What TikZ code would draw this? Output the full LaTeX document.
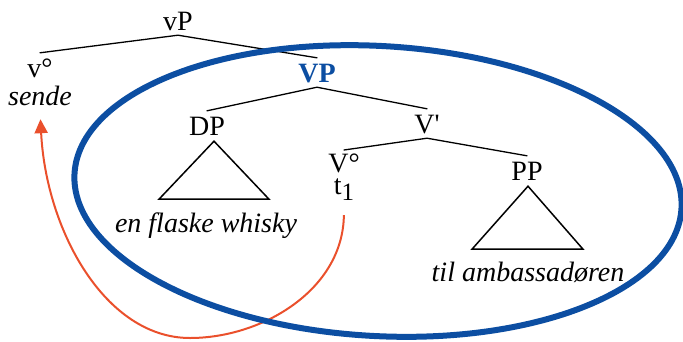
\documentclass[tikz,border=0pt]{standalone}
\usepackage{fontspec}
\setmainfont{Liberation Serif}
\usetikzlibrary{arrows.meta}
\definecolor{ovalblue}{RGB}{12,78,162}
\definecolor{movered}{RGB}{234,80,44}
\begin{document}
\begin{tikzpicture}[x=1pt,y=-1pt,
  lab/.style={anchor=base,inner sep=5pt,text height=19pt,text depth=0pt,font=\fontsize{28}{32}\selectfont},
  itlab/.style={lab,font=\fontsize{28}{32}\selectfont\itshape},
  branch/.style={line width=1.3pt,line cap=round},
  tri/.style={line width=1.5pt,line join=miter},
  oval/.style={draw=ovalblue,line width=6pt},
  move/.style={draw=movered,line width=2pt,-{Triangle[length=14pt,width=13pt]}}]
\useasboundingbox (0,0) rectangle (683,341);
% nodes
\node[lab] (vP) at (178,30) {vP};
\node[lab] (vo) at (40,77) {v°};
\node[itlab] (sende) at (40,105) {sende};
\node[lab,text=ovalblue,font=\fontsize{28}{32}\selectfont\bfseries] (VP) at (317,82) {VP};
\node[lab] (DP) at (207,135) {DP};
\node[itlab] (enf) at (206,232) {en flaske whisky};
\node[lab] (Vbar) at (427,133) {V\textquotesingle};
\node[anchor=north,inner sep=4pt,align=center,font=\fontsize{28}{22}\selectfont] (Vo) at (344,150)
  {V°\\t\raisebox{-6pt}{\fontsize{25}{25}\selectfont 1}};
\node[lab] (PP) at (527,180) {PP};
\node[itlab] (til) at (528,281) {til ambassadøren};
% branches
\draw[branch] (vo.north) -- (vP.south) -- (VP.north);
\draw[branch] (DP.north) -- (VP.south) -- (Vbar.north);
\draw[branch] (Vo.north) -- (Vbar.south) -- (PP.north);
% triangles
\draw[tri] ([xshift=7pt,yshift=-1pt]DP.south) -- ++(-55,58) -- ++(110,0) -- cycle;
\draw[tri] ([xshift=1pt,yshift=-1pt]PP.south) -- ++(-56,63) -- ++(111,0) -- cycle;
% movement arrow
\draw[move,shorten <=10pt,shorten >=9pt] (Vo.south) .. controls (343,290) and (262,338) .. (190,338)
  .. controls (105,338) and (46,230) .. (sende.south);
% oval
\draw[oval,rotate around={-3.3:(378,191)}] (378,191) ellipse [x radius=304, y radius=145];
\end{tikzpicture}
\end{document}
